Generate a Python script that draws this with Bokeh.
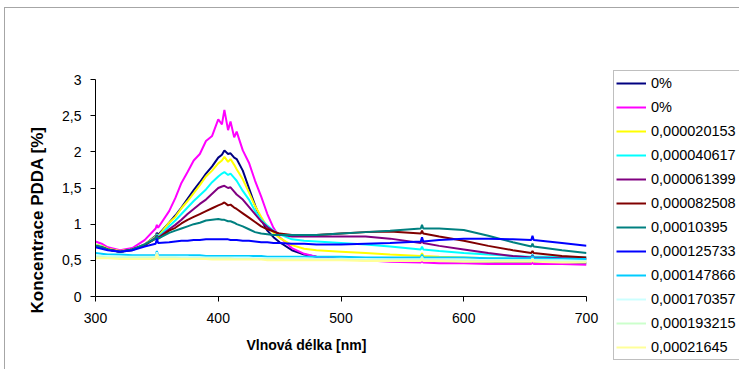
from bokeh.plotting import figure
from bokeh.layouts import row
from bokeh.models import Range1d, FixedTicker, CustomJSTickFormatter, Legend, LegendItem, Title
from bokeh.embed import file_html
from bokeh.resources import INLINE

# wavelength grid [nm]
wavelength = [300, 305, 310, 320, 330, 340, 349, 350, 351, 360, 365, 370, 375, 380, 385, 390, 395,
              400, 403, 405, 408, 410, 413, 415, 420, 425, 430, 435, 440, 445, 450, 460, 470, 480,
              490, 500, 520, 540, 565, 566, 567, 580, 600, 620, 640, 655, 656, 657, 680, 700]

series_labels = ["0%", "0%", "0,000020153", "0,000040617", "0,000061399", "0,000082508",
                 "0,00010395", "0,000125733", "0,000147866", "0,000170357", "0,000193215", "0,00021645"]

series_colors = ["#000080", "#FF00FF", "#FFFF00", "#00FFFF", "#800080", "#800000",
                 "#008080", "#0000FF", "#00CCFF", "#CCFFFF", "#CCFFCC", "#FFFF99"]

s_navy = [0.70, 0.69, 0.66, 0.62, 0.64, 0.72, 0.84, 0.88, 0.85, 1.02, 1.12, 1.23, 1.35, 1.47, 1.58, 1.70, 1.80,
          1.92, 1.96, 2.02, 1.97, 1.98, 1.92, 1.90, 1.74, 1.50, 1.26, 1.06, 0.91, 0.82, 0.75, 0.64, 0.58, 0.55,
          0.53, 0.52, 0.51, 0.50, 0.49, 0.53, 0.49, 0.49, 0.48, 0.48, 0.47, 0.47, 0.50, 0.47, 0.47, 0.46]
s_magenta = [0.76, 0.73, 0.68, 0.64, 0.67, 0.78, 0.94, 0.99, 0.95, 1.18, 1.36, 1.57, 1.72, 1.88, 1.97, 2.15, 2.22,
             2.45, 2.38, 2.58, 2.30, 2.42, 2.20, 2.28, 2.02, 1.85, 1.60, 1.38, 1.14, 0.95, 0.82, 0.67, 0.59, 0.55,
             0.53, 0.51, 0.50, 0.48, 0.47, 0.50, 0.47, 0.46, 0.46, 0.45, 0.45, 0.45, 0.48, 0.45, 0.45, 0.44]
s_yellow = [0.72, 0.70, 0.66, 0.63, 0.65, 0.72, 0.83, 0.86, 0.83, 1.02, 1.10, 1.22, 1.32, 1.43, 1.54, 1.66, 1.74,
            1.84, 1.88, 1.93, 1.86, 1.90, 1.82, 1.76, 1.62, 1.44, 1.25, 1.10, 0.96, 0.88, 0.81, 0.71, 0.66, 0.64,
            0.63, 0.62, 0.60, 0.58, 0.56, 0.60, 0.56, 0.55, 0.54, 0.53, 0.52, 0.52, 0.55, 0.52, 0.51, 0.50]
s_cyan = [0.71, 0.69, 0.65, 0.62, 0.65, 0.71, 0.82, 0.86, 0.82, 0.97, 1.05, 1.14, 1.23, 1.32, 1.40, 1.48, 1.58,
          1.66, 1.70, 1.72, 1.68, 1.70, 1.64, 1.60, 1.46, 1.34, 1.18, 1.06, 0.98, 0.91, 0.86, 0.79, 0.77, 0.76,
          0.75, 0.74, 0.72, 0.69, 0.65, 0.69, 0.65, 0.63, 0.60, 0.58, 0.56, 0.55, 0.58, 0.55, 0.55, 0.54]
s_purple = [0.70, 0.68, 0.65, 0.62, 0.65, 0.71, 0.81, 0.85, 0.81, 0.93, 0.99, 1.06, 1.14, 1.21, 1.28, 1.34, 1.42,
            1.50, 1.52, 1.53, 1.50, 1.51, 1.45, 1.41, 1.34, 1.24, 1.14, 1.04, 0.96, 0.90, 0.86, 0.83, 0.83, 0.83,
            0.83, 0.83, 0.83, 0.80, 0.74, 0.78, 0.74, 0.70, 0.65, 0.60, 0.56, 0.54, 0.57, 0.54, 0.53, 0.52]
s_brown = [0.70, 0.68, 0.65, 0.62, 0.65, 0.71, 0.80, 0.84, 0.80, 0.91, 0.95, 1.01, 1.06, 1.10, 1.14, 1.18, 1.22,
           1.26, 1.28, 1.30, 1.26, 1.27, 1.23, 1.21, 1.15, 1.09, 1.03, 0.97, 0.93, 0.90, 0.87, 0.85, 0.85, 0.85,
           0.86, 0.87, 0.89, 0.90, 0.87, 0.91, 0.87, 0.83, 0.77, 0.70, 0.64, 0.60, 0.63, 0.60, 0.56, 0.54]
s_teal = [0.70, 0.68, 0.65, 0.62, 0.65, 0.72, 0.80, 0.84, 0.80, 0.88, 0.91, 0.94, 0.97, 1.00, 1.02, 1.05, 1.06,
          1.07, 1.06, 1.06, 1.04, 1.04, 1.02, 1.00, 0.97, 0.93, 0.89, 0.87, 0.86, 0.85, 0.85, 0.85, 0.85, 0.85,
          0.86, 0.87, 0.89, 0.91, 0.94, 0.99, 0.94, 0.94, 0.92, 0.84, 0.75, 0.69, 0.73, 0.69, 0.64, 0.60]
s_blue = [0.68, 0.66, 0.64, 0.62, 0.64, 0.69, 0.73, 0.80, 0.74, 0.75, 0.76, 0.77, 0.77, 0.78, 0.78, 0.79, 0.79,
          0.79, 0.79, 0.79, 0.79, 0.78, 0.78, 0.78, 0.77, 0.77, 0.76, 0.75, 0.75, 0.74, 0.74, 0.73, 0.73, 0.72,
          0.72, 0.72, 0.73, 0.74, 0.76, 0.82, 0.76, 0.78, 0.80, 0.80, 0.79, 0.78, 0.84, 0.78, 0.74, 0.70]
s_sky = [0.60, 0.59, 0.58, 0.58, 0.57, 0.57, 0.57, 0.63, 0.57, 0.57, 0.57, 0.57, 0.57, 0.57, 0.57, 0.56, 0.56,
         0.56, 0.56, 0.56, 0.56, 0.56, 0.56, 0.56, 0.56, 0.56, 0.56, 0.56, 0.55, 0.55, 0.55, 0.55, 0.55, 0.55,
         0.55, 0.55, 0.54, 0.54, 0.54, 0.58, 0.54, 0.54, 0.54, 0.53, 0.53, 0.53, 0.56, 0.53, 0.52, 0.52]
s_lightcyan = [0.57, 0.56, 0.56, 0.55, 0.55, 0.55, 0.55, 0.61, 0.55, 0.55, 0.55, 0.55, 0.55, 0.54, 0.54, 0.54, 0.54,
               0.54, 0.54, 0.54, 0.54, 0.54, 0.54, 0.54, 0.54, 0.54, 0.53, 0.53, 0.53, 0.53, 0.53, 0.53, 0.53, 0.52,
               0.52, 0.52, 0.52, 0.51, 0.51, 0.55, 0.51, 0.51, 0.51, 0.50, 0.50, 0.50, 0.53, 0.50, 0.50, 0.49]
s_lightgreen = [0.55, 0.55, 0.54, 0.54, 0.54, 0.54, 0.54, 0.60, 0.54, 0.54, 0.54, 0.53, 0.53, 0.53, 0.53, 0.53, 0.53,
                0.53, 0.53, 0.53, 0.53, 0.53, 0.52, 0.52, 0.52, 0.52, 0.52, 0.52, 0.52, 0.52, 0.52, 0.51, 0.51, 0.51,
                0.51, 0.51, 0.50, 0.50, 0.50, 0.54, 0.50, 0.50, 0.49, 0.49, 0.49, 0.49, 0.52, 0.49, 0.48, 0.48]
s_lightyellow = [0.53, 0.53, 0.53, 0.52, 0.52, 0.52, 0.52, 0.58, 0.52, 0.52, 0.52, 0.52, 0.52, 0.52, 0.52, 0.52, 0.51,
                 0.51, 0.51, 0.51, 0.51, 0.51, 0.51, 0.51, 0.51, 0.51, 0.51, 0.51, 0.50, 0.50, 0.50, 0.50, 0.50, 0.50,
                 0.50, 0.50, 0.49, 0.49, 0.49, 0.52, 0.49, 0.49, 0.48, 0.48, 0.48, 0.48, 0.51, 0.48, 0.47, 0.47]

series_values = [s_navy, s_magenta, s_yellow, s_cyan, s_purple, s_brown,
                 s_teal, s_blue, s_sky, s_lightcyan, s_lightgreen, s_lightyellow]

x_ticks = [300, 400, 500, 600, 700]
y_ticks = [0, 0.5, 1, 1.5, 2, 2.5, 3]
x_title = "Vlnová délka [nm]"
y_title = "Koncentrace PDDA [%]"

FONT = "Liberation Sans"

# ---- main chart ----
p = figure(width=605, height=369, output_backend="svg", toolbar_location=None,
           x_range=Range1d(300, 700), y_range=Range1d(0, 3),
           min_border_left=95, min_border_right=19, min_border_top=79, min_border_bottom=73)
p.frame_align = False
p.outline_line_color = None
p.xgrid.grid_line_color = None
p.ygrid.grid_line_color = None
p.background_fill_color = "white"
p.border_fill_alpha = 0

for col, vals in zip(series_colors, series_values):
    p.line(wavelength, vals, line_color=col, line_width=2)

for ax in (p.xaxis[0], p.yaxis[0]):
    ax.axis_line_color = "black"
    ax.major_tick_line_color = "black"
    ax.major_tick_in = 0
    ax.major_tick_out = 5
    ax.minor_tick_line_color = None
    ax.major_label_text_font = FONT
    ax.major_label_text_font_size = "14px"
    ax.major_label_text_color = "black"

p.xaxis[0].ticker = FixedTicker(ticks=x_ticks)
p.yaxis[0].ticker = FixedTicker(ticks=y_ticks)
p.yaxis[0].formatter = CustomJSTickFormatter(code="return tick.toString().replace('.', ',');")
p.xaxis[0].major_label_standoff = 11
p.yaxis[0].major_label_standoff = 9

p.add_layout(Title(text=x_title, align="left", offset=151, text_font=FONT, text_font_size="14px",
                   text_font_style="bold", text_color="black", standoff=18), "below")
p.add_layout(Title(text=y_title, align="left", offset=-17, text_font=FONT, text_font_size="17px",
                   text_font_style="bold", text_color="black", standoff=26), "left")

# ---- legend panel (series drawn again, outside its visible ranges, as legend sources) ----
q = figure(width=134, height=369, output_backend="svg", toolbar_location=None,
           x_range=Range1d(0, 1), y_range=Range1d(0, 1),
           min_border_left=0, min_border_right=0, min_border_top=0, min_border_bottom=0,
           x_axis_type=None, y_axis_type=None)
q.frame_align = False
q.outline_line_color = None
q.xgrid.grid_line_color = None
q.ygrid.grid_line_color = None
q.background_fill_alpha = 0
q.border_fill_alpha = 0

items = []
for lab, col, vals in zip(series_labels, series_colors, series_values):
    r = q.line(wavelength, vals, line_color=col, line_width=2)
    items.append(LegendItem(label=lab, renderers=[r]))

legend = Legend(items=items, location=(8, 9))
legend.border_line_color = "#808080"
legend.border_line_width = 1
legend.background_fill_color = "white"
legend.background_fill_alpha = 1
legend.padding = 2
legend.spacing = 4
legend.margin = 0
legend.glyph_width = 30
legend.glyph_height = 20
legend.label_height = 20
legend.label_width = 110
legend.label_standoff = 5
legend.label_text_font = FONT
legend.label_text_font_size = "14.5px"
legend.label_text_color = "black"
q.add_layout(legend)

layout = row(p, q, spacing=0)
layout.styles = {"box-shadow": "inset 4px 7px 0 0 white, inset 5px 8px 0 0 #a6a6a6"}
open("out.html", "w").write(file_html(layout, INLINE))
